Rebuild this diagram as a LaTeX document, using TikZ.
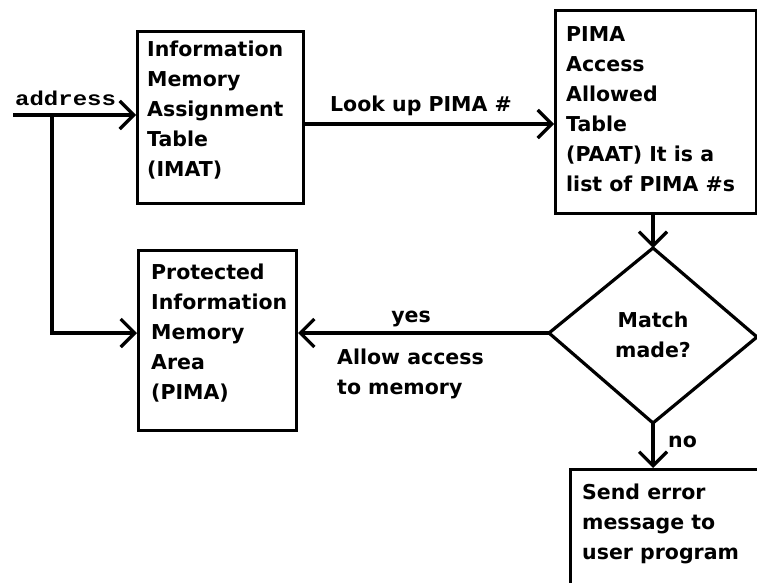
\documentclass[tikz,border=0pt]{standalone}
\usepackage{fontspec}
\setmainfont{DejaVu Sans}
\newfontfamily\addrfont[FakeStretch=1.2]{Liberation Mono}
\usetikzlibrary{arrows.meta}
\begin{document}
\begin{tikzpicture}[x=1pt,y=-1pt,
  box/.style={draw, line width=3.2pt, rectangle, inner sep=0pt, anchor=north west},
  txt/.style={inner sep=0pt, anchor=north west, align=left, font=\bfseries\fontsize{20.5}{30}\selectfont},
  lab/.style={inner sep=0pt, font=\bfseries\fontsize{20.5}{30}\selectfont},
  conn/.style={line width=3.2pt, -{Straight Barb[length=14pt,width=28pt]}},
  plain/.style={line width=3.2pt}]
\useasboundingbox (0,0) rectangle (757,583);
\clip (0,0) rectangle (757,583);
% boxes
\node[box, minimum width=166pt, minimum height=172pt] (imat) at (136,30) {};
\node[box, minimum width=158pt, minimum height=180pt] (pima) at (137,249) {};
\node[box, minimum width=201pt, minimum height=203pt] (paat) at (554,9) {};
\node[box, minimum width=250pt, minimum height=200pt] (err) at (569,468) {};
% box texts
\node[txt] (imatt) at (147,41) {Information\\Memory\\Assignment\\Table\\(IMAT)};
\node[txt] (pimat) at (151,264) {Protected\\Information\\Memory\\Area\\(PIMA)};
\node[txt] (paatt) at (566,26) {PIMA\\Access\\Allowed\\Table\\(PAAT) It is a\\list of PIMA \#s};
\node[txt] (errt) at (582,484) {Send error\\message to\\user program};
% diamond
\coordinate (dt) at (653,248);
\coordinate (dl) at (549,333);
\coordinate (db) at (653,423);
\coordinate (dr) at (757,337);
\draw[plain, line join=miter] (dt) -- (dr) -- (db) -- (dl) -- cycle;
\node[lab, anchor=north, align=center] (match) at (653,312) {Match\\made?};
% connectors
\coordinate (a0) at (13,115);
\coordinate (br) at (52,115);
\draw[conn] (a0) -- (a0 -| imat.west);
\node[inner sep=0pt, anchor=base west, font=\addrfont\bfseries\fontsize{20}{22}\selectfont] (addr) at (15,106) {address};
\draw[conn] (br) |- (dl -| pima.west);
\coordinate (lk) at (302,124);
\draw[conn] (lk) -- (lk -| paat.west);
\node[lab, anchor=north] (look) at (421,96) {Look up PIMA \#};
\draw[conn] (paat.south -| dt) -- (dt);
\draw[conn] (dl) -- (dl -| pima.east);
\node[lab, anchor=base] (yes) at (411,322) {yes};
\node[txt] (allow) at (337,349) {Allow access\\to memory};
\draw[conn] (db) -- (db |- err.north);
\node[lab, anchor=base west] (no) at (668,447) {no};
\end{tikzpicture}
\end{document}
